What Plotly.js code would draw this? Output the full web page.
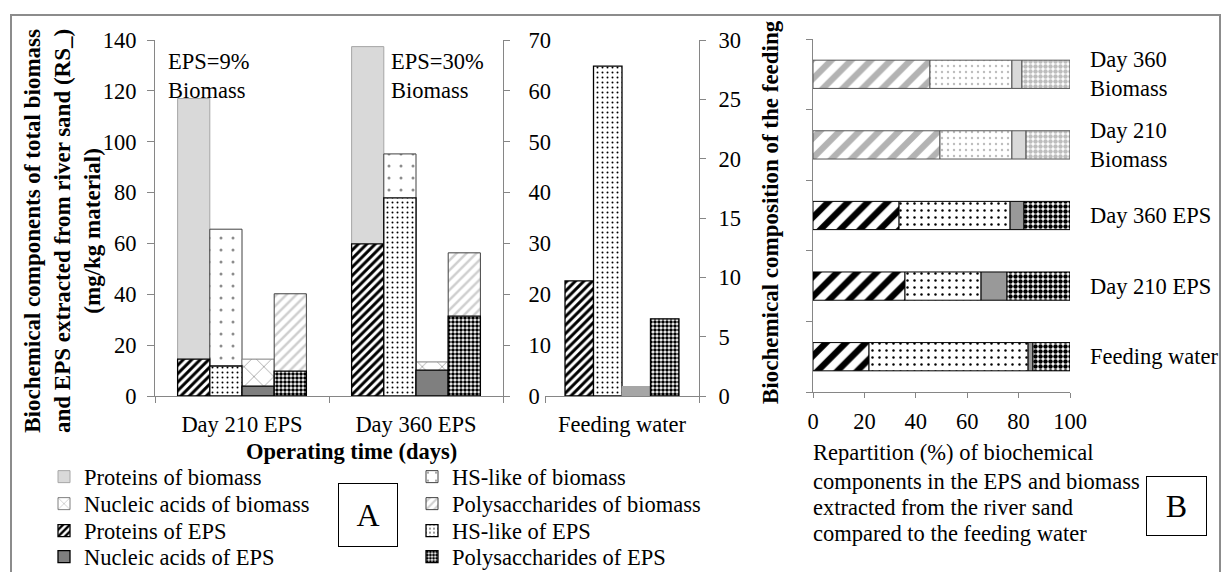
<!DOCTYPE html>
<html><head><meta charset="utf-8">
<script src="https://cdn.plot.ly/plotly-3.0.1.min.js"></script>
<style>html,body{margin:0;padding:0;background:#fff}#chart{width:1222px;height:572px}</style>
</head><body><div id="chart"></div>
<script>
// ---- Panel A data (mg/kg material) ----
const catsA = ['Day 210 EPS', 'Day 360 EPS'];
const protBiomass = [117.0, 137.4];
const hsBiomass   = [65.6, 95.2];
const nucBiomass  = [14.5, 13.4];
const polyBiomass = [40.2, 56.3];
const protEPS = [14.5, 59.8];
const hsEPS   = [11.8, 77.9];
const nucEPS  = [3.9, 10.2];
const polyEPS = [9.8, 31.4];
// ---- Feeding water ----
const catFeed = ['Feeding water'];
const protFeed = [9.7];
const hsFeed   = [27.8];
const nucFeed  = [0.8];
const polyFeed = [6.5];
// ---- Panel B data (%) ----
const catsB = ['Feeding water', 'Day 210 EPS', 'Day 360 EPS', 'Day 210 Biomass', 'Day 360 Biomass'];
const labelsB = ['Feeding water', 'Day 210 EPS', 'Day 360 EPS', 'Day 210<br>Biomass', 'Day 360<br>Biomass'];
const catsBEps = ['Feeding water', 'Day 210 EPS', 'Day 360 EPS'];
const protPctEPS = [21.8, 35.8, 33.5];
const hsPctEPS   = [61.9, 29.6, 43.2];
const nucPctEPS  = [1.9, 10.1, 5.4];
const polyPctEPS = [14.4, 24.5, 17.9];
const catsBBio = ['Day 210 Biomass', 'Day 360 Biomass'];
const protPctBio = [49.4, 45.5];
const hsPctBio   = [28.0, 31.9];
const nucPctBio  = [5.5, 3.9];
const polyPctBio = [17.1, 18.7];
const ticksA = [0, 20, 40, 60, 80, 100, 120, 140];

const W = 1222, H = 572;
const px = v => v / W;
const py = v => 1 - v / H;
const FONT = 'Liberation Serif';
const FS = 22.5;
const AX = '#868686';

// styles
const S = {
  protBio: {color: '#d9d9d9', line: {color: '#a6a6a6', width: 1}},
  hsBio:   {color: '#ffffff', line: {color: '#404040', width: 1}, pattern: {shape: '.', fgcolor: '#8c8c8c', bgcolor: '#ffffff', size: 12, solidity: 0.05}},
  nucBio:  {color: '#ffffff', line: {color: '#7f7f7f', width: 1}, pattern: {shape: 'x', fgcolor: '#a6a6a6', bgcolor: '#ffffff', size: 14, solidity: 0.12}},
  polyBio: {color: '#ffffff', line: {color: '#404040', width: 1}, pattern: {shape: '/', fgcolor: '#cfcfcf', bgcolor: '#ffffff', size: 7, solidity: 0.35}},
  protEPS: {color: '#ffffff', line: {color: '#000000', width: 1.3}, pattern: {shape: '/', fgcolor: '#000000', bgcolor: '#ffffff', size: 6, solidity: 0.5}},
  hsEPS:   {color: '#ffffff', line: {color: '#000000', width: 1.3}, pattern: {shape: '.', fgcolor: '#000000', bgcolor: '#ffffff', size: 5, solidity: 0.12}},
  nucEPS:  {color: '#7f7f7f', line: {color: '#000000', width: 1.3}},
  polyEPS: {color: '#ffffff', line: {color: '#000000', width: 1.3}, pattern: {shape: '.', fgcolor: '#000000', bgcolor: '#ffffff', size: 4, solidity: 0.62}}
};
const SB = {
  protEPS: {color: '#fff', line: {color: '#000', width: 1}, pattern: {shape: '/', fgcolor: '#000', bgcolor: '#fff', size: 14, solidity: 0.45}},
  hsEPS:   {color: '#fff', line: {color: '#000', width: 1}, pattern: {shape: '.', fgcolor: '#000', bgcolor: '#fff', size: 7, solidity: 0.1}},
  nucEPS:  {color: '#999999', line: {color: '#000', width: 1}},
  polyEPS: {color: '#fff', line: {color: '#000', width: 1}, pattern: {shape: '.', fgcolor: '#000', bgcolor: '#fff', size: 5, solidity: 0.62}},
  protBio: {color: '#fff', line: {color: '#555', width: 1}, pattern: {shape: '/', fgcolor: '#b3b3b3', bgcolor: '#fff', size: 14, solidity: 0.45}},
  hsBio:   {color: '#fff', line: {color: '#555', width: 1}, pattern: {shape: '.', fgcolor: '#bdbdbd', bgcolor: '#fff', size: 6, solidity: 0.12}},
  nucBio:  {color: '#d9d9d9', line: {color: '#555', width: 1}},
  polyBio: {color: '#fff', line: {color: '#555', width: 1}, pattern: {shape: '.', fgcolor: '#bdbdbd', bgcolor: '#fff', size: 5, solidity: 0.62}}
};

const traces = [];
function barA(name, y, style, grp, leg) {
  traces.push({type: 'bar', name: name, x: catsA, y: y, xaxis: 'x', yaxis: 'y', offsetgroup: grp,
    marker: style, legend: leg, hoverinfo: 'skip'});
}
// biomass (totals) behind, EPS in front
barA('Proteins of biomass', protBiomass, S.protBio, 'p', 'legend');
barA('HS-like of biomass', hsBiomass, S.hsBio, 'h', 'legend2');
barA('Nucleic acids of biomass', nucBiomass, S.nucBio, 'n', 'legend3');
barA('Polysaccharides of biomass', polyBiomass, S.polyBio, 'q', 'legend4');
barA('Proteins of EPS', protEPS, S.protEPS, 'p', 'legend5');
barA('HS-like of EPS', hsEPS, S.hsEPS, 'h', 'legend6');
barA('Nucleic acids of EPS', nucEPS, S.nucEPS, 'n', 'legend7');
barA('Polysaccharides of EPS', polyEPS, S.polyEPS, 'q', 'legend8');
// empty trace so the secondary 0-70 axis of panel A is drawn
traces.push({type: 'scatter', mode: 'lines', x: [], y: [], xaxis: 'x', yaxis: 'y2', showlegend: false, hoverinfo: 'skip'});

// feeding water
[[protFeed, S.protEPS, 'p'], [hsFeed, S.hsEPS, 'h'], [nucFeed, {color: '#a6a6a6', line: {color: '#a6a6a6', width: 1}}, 'n'], [polyFeed, S.polyEPS, 'q']]
  .forEach(([v, st, g]) => traces.push({type: 'bar', x: catFeed, y: v, xaxis: 'x2', yaxis: 'y3', offsetgroup: g,
    marker: st, showlegend: false, hoverinfo: 'skip'}));

// panel B stacked horizontal bars
function stackB(cats, series) {
  let cum = cats.map(() => 0);
  series.forEach(([vals, st]) => {
    traces.push({type: 'bar', orientation: 'h', y: cats, x: vals, base: cum.slice(), xaxis: 'x3', yaxis: 'y4',
      offsetgroup: 'b', width: 0.4, offset: -0.2, marker: st, showlegend: false, hoverinfo: 'skip'});
    cum = cum.map((c, i) => c + vals[i]);
  });
}
stackB(catsBEps, [[protPctEPS, SB.protEPS], [hsPctEPS, SB.hsEPS], [nucPctEPS, SB.nucEPS], [polyPctEPS, SB.polyEPS]]);
stackB(catsBBio, [[protPctBio, SB.protBio], [hsPctBio, SB.hsBio], [nucPctBio, SB.nucBio], [polyPctBio, SB.polyBio]]);

const tf = {family: FONT, size: FS, color: '#000'};
const bf = {family: FONT, size: 23, color: '#000', weight: 'bold'};
const common = {showgrid: false, zeroline: false, showline: true, linecolor: AX, linewidth: 1,
  ticks: 'outside', tickcolor: AX, tickwidth: 1, tickfont: tf, fixedrange: true};
const yDom = [py(396), py(40)];

const annotations = [
  {text: 'EPS=9%<br>Biomass', x: px(166), y: py(76), xanchor: 'left', yanchor: 'middle', align: 'left'},
  {text: 'EPS=30%<br>Biomass', x: px(389), y: py(76), xanchor: 'left', yanchor: 'middle', align: 'left'},
  {text: 'Operating time (days)', x: px(351), y: py(451), font: {family: FONT, size: 22.5, color: '#000', weight: 'bold'}},
  {text: 'Biochemical components of total biomass<br>and EPS extracted from river sand (RS_)<br>(mg/kg material)',
    x: px(62), y: py(231), textangle: -90, font: bf},
  {text: 'Biochemical composition of the feeding', x: px(770), y: py(212), textangle: -90, font: bf},
  {text: 'A', x: px(368), y: py(514.5), width: 56, height: 60, bordercolor: '#000', borderwidth: 1, font: {family: FONT, size: 32, color: '#000'}},
  {text: 'B', x: px(1176.5), y: py(506), width: 57, height: 56, bordercolor: '#000', borderwidth: 1, font: {family: FONT, size: 32, color: '#000'}},
  {text: 'Repartition (%) of biochemical', x: px(811), y: py(452), xanchor: 'left', align: 'left'},
  {text: 'components in the EPS and biomass', x: px(811), y: py(481), xanchor: 'left', align: 'left'},
  {text: 'extracted from the river sand', x: px(811), y: py(507), xanchor: 'left', align: 'left'},
  {text: 'compared to the feeding water', x: px(811), y: py(533), xanchor: 'left', align: 'left'}
].map(a => Object.assign({xref: 'paper', yref: 'paper', showarrow: false, font: tf, xanchor: 'center', yanchor: 'middle'}, a));
catsB.forEach((c, i) => annotations.push({xref: 'paper', yref: 'y4', x: px(1088), y: c, text: labelsB[i],
  xanchor: 'left', yanchor: 'middle', align: 'left', showarrow: false, font: tf}));

const layout = {
  width: W, height: H, margin: {l: 0, r: 0, t: 0, b: 0, autoexpand: false}, paper_bgcolor: '#fff', plot_bgcolor: 'rgba(0,0,0,0)',
  font: {family: FONT, size: FS, color: '#000'},
  barmode: 'group', bargap: 0.26, bargroupgap: 0,
  xaxis: Object.assign({}, common, {domain: [px(155), px(503)], anchor: 'y', type: 'category', tickson: 'boundaries', ticklen: 6, ticklabelstandoff: 8}),
  yaxis: Object.assign({}, common, {domain: yDom, anchor: 'x', range: [0, 140], tickvals: ticksA, ticklen: 7, ticklabelstandoff: 6}),
  yaxis2: Object.assign({}, common, {overlaying: 'y', anchor: 'x', side: 'right', range: [0, 70], dtick: 10, ticklen: 6, ticklabelstandoff: 14}),
  xaxis2: Object.assign({}, common, {domain: [px(545), px(699)], anchor: 'y3', type: 'category', tickson: 'boundaries', ticklen: 6, ticklabelstandoff: 8}),
  yaxis3: Object.assign({}, common, {domain: yDom, anchor: 'x2', side: 'right', range: [0, 30], dtick: 5, ticklen: 6, ticklabelstandoff: 8}),
  xaxis3: Object.assign({}, common, {domain: [px(813), px(1070)], anchor: 'y4', range: [0, 100], dtick: 20, ticklen: 5, ticklabelstandoff: 4}),
  yaxis4: Object.assign({}, common, {domain: [py(392), py(39)], anchor: 'x3', type: 'category', categoryorder: 'array',
    categoryarray: catsB, range: [-0.5, 4.5], tickson: 'boundaries', ticklen: 6, showticklabels: false}),
  annotations: annotations,
  shapes: [{type: 'rect', xref: 'paper', yref: 'paper', x0: px(11), x1: px(1220), y0: -0.2, y1: py(15),
    line: {color: '#8c8c8c', width: 2}, fillcolor: 'rgba(0,0,0,0)', layer: 'below'}]
};
// one small legend per entry, laid out as the reference's two-column grid
const legCols = [44, 412];
const legRows = [477, 504, 531, 557];
['legend', 'legend2', 'legend3', 'legend4', 'legend5', 'legend6', 'legend7', 'legend8'].forEach((k, i) => {
  layout[k] = {x: px(legCols[i % 2]), y: py(legRows[Math.floor(i / 2)]), xref: 'container', yref: 'container',
    xanchor: 'left', yanchor: 'middle', orientation: 'v', font: tf, bgcolor: 'rgba(0,0,0,0)', itemclick: false};
});
Plotly.newPlot('chart', traces, layout, {displayModeBar: false, staticPlot: true});
</script></body></html>
